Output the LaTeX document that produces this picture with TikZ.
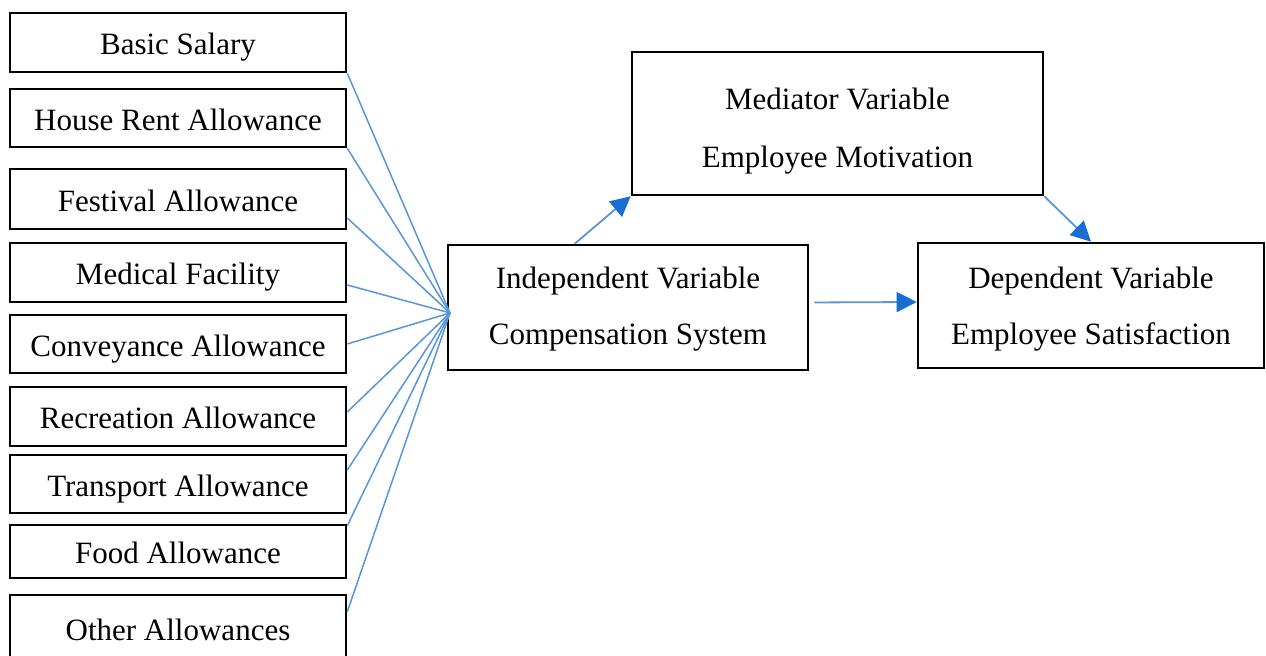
\documentclass[tikz,border=0pt]{standalone}
\usepackage{fontspec}
\setmainfont{Liberation Serif}
\usetikzlibrary{arrows.meta,calc}
\definecolor{lineblue}{RGB}{88,150,220}
\definecolor{headblue}{RGB}{25,110,210}
\tikzset{
  box/.style={draw=black, line width=1.3pt, fill=white, inner sep=0pt, font=\fontsize{15.5}{18}\selectfont, align=center},
  item/.style={box, minimum width=168pt, text height=12.5pt, text depth=0pt},
  fan/.style={draw=lineblue, line width=0.75pt},
  flow/.style={draw=lineblue, line width=0.9pt, -{Triangle[length=10pt,width=10pt,color=headblue]}},
}
\begin{document}
\begin{tikzpicture}[x=0.5pt,y=-0.5pt]
\useasboundingbox (0,0) rectangle (1266,656);
\begin{scope}
\clip (0,0) rectangle (1266,656);
% left boxes
\node[item, minimum height=29.5pt] (b1) at (178,42.5) {Basic Salary};
\node[item, minimum height=29pt] (b2) at (178,118) {House Rent Allowance};
\node[item, minimum height=30pt] (b3) at (178,199) {Festival Allowance};
\node[item, minimum height=29.5pt] (b4) at (178,272.5) {Medical Facility};
\node[item, minimum height=29pt] (b5) at (178,344) {Conveyance Allowance};
\node[item, minimum height=29.5pt] (b6) at (178,416.5) {Recreation Allowance};
\node[item, minimum height=29pt] (b7) at (178,484) {Transport Allowance};
\node[item, minimum height=26.5pt] (b8) at (178,551.5) {Food Allowance};
\node[item, minimum height=33pt] (b9) at (178,628) {Other Allowances};
% main boxes
\node[box, minimum width=180pt, minimum height=62.5pt] (ind) at (628,307.5) {\rule{0pt}{12pt}Independent Variable\\[10pt]Compensation System};
\node[box, minimum width=205.5pt, minimum height=71.5pt] (med) at (837.5,123.5) {\rule{0pt}{18pt}Mediator Variable\\[11pt]Employee Motivation};
\node[box, minimum width=173pt, minimum height=62.5pt] (dep) at (1091,305.5) {\rule{0pt}{14pt}Dependent Variable\\[10pt]Employee Satisfaction};
\end{scope}
\coordinate (hub) at (450,313);
% fan lines
\draw[fan] (b1.south east) -- (hub);
\draw[fan] (b2.south east) -- (hub);
\draw[fan] ($(b3.east)+(0,19)$) -- (hub);
\draw[fan] ($(b4.east)+(0,12.5)$) -- (hub);
\draw[fan] (b5.east) -- (hub);
\draw[fan] ($(b6.east)+(0,-4.5)$) -- (hub);
\draw[fan] ($(b7.east)+(0,-14)$) -- (hub);
\draw[fan] ($(b8.north east)+(0,2)$) -- (hub);
\draw[fan] ($(b9.north east)+(0,18)$) -- (hub);
% arrows
\draw[flow] ($(ind.north west)!0.353!(ind.north east)$) -- (med.south west);
\draw[flow] (med.south east) -- (dep.north);
\draw[flow, shorten <=2.5pt] ($(ind.east)+(0,-5)$) -- ($(dep.west)+(0,-3.5)$);
\end{tikzpicture}
\end{document}
